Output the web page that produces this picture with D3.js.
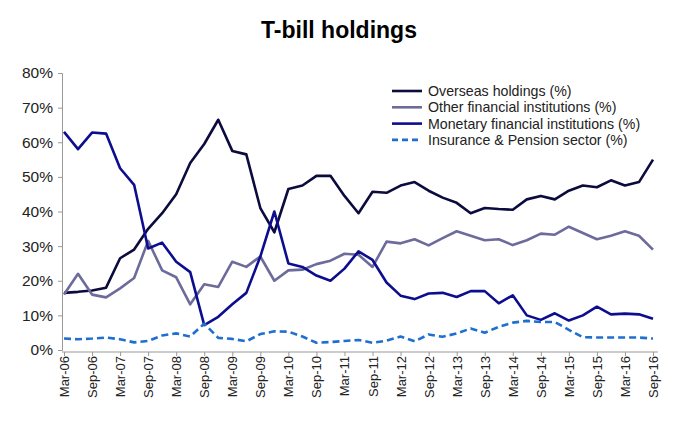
<!DOCTYPE html><html><head><meta charset="utf-8"><script src="https://cdn.jsdelivr.net/npm/d3@7"></script>
<style>body{margin:0;background:#fff;font-family:"Liberation Sans",Arial,sans-serif}</style></head><body><svg id="c" width="678" height="425"></svg><script>
const quarters=[];
const mons=["Mar","Jun","Sep","Dec"];
for(let y=6;y<=16;y++)for(const m of mons){quarters.push(m+"-"+String(y).padStart(2,"0"));}
quarters.splice(quarters.length-1,1);
const overseas=[16.5,16.8,17.2,18,26.5,29,35,39.5,45,54,59.5,66.5,57.5,56.5,41,34,46.5,47.5,50.3,50.3,44.5,39.5,45.7,45.4,47.5,48.5,46,44,42.5,39.5,41,40.7,40.5,43.5,44.5,43.5,46,47.5,47,49,47.5,48.5,55];
const other=[16,22,16,15.2,17.8,20.8,31.5,23,21,13.2,19,18.2,25.5,24,27,20,23,23.2,24.8,25.8,27.8,27.5,24,31.3,30.8,32,30.2,32.3,34.3,33,31.7,32,30.3,31.7,33.6,33.3,35.6,33.8,32,33,34.3,33,29];
const mfi=[63,58,62.8,62.5,52.5,47.7,29.3,31,25.5,22.5,7.2,9.6,13.2,16.5,27,40,25,24,21.5,20,23.5,28.5,26,19.5,15.7,14.7,16.3,16.5,15.3,17,17,13.5,15.8,10,8.7,10.6,8.5,10,12.5,10.3,10.5,10.3,9];
const insurance=[3.3,3.1,3.3,3.6,3.1,2.2,2.6,4.2,4.8,3.9,7.6,3.5,3.2,2.5,4.6,5.4,5.3,3.9,2.1,2.3,2.6,2.9,2.1,2.7,3.9,2.5,4.5,3.8,4.8,6.2,5,6.7,7.9,8.4,8.1,8.1,5.8,3.7,3.6,3.6,3.6,3.6,3.3];
const yTicks=[0,10,20,30,40,50,60,70,80];
const series=[
 {name:"Overseas holdings (%)",v:overseas,c:"#0b0b3d",d:null},
 {name:"Other financial institutions (%)",v:other,c:"#6d6b9b",d:null},
 {name:"Monetary financial institutions (%)",v:mfi,c:"#0d0d8f",d:null},
 {name:"Insurance & Pension sector (%)",v:insurance,c:"#1f6fd1",d:"7,4"}];
const svg=d3.select("#c");
const x=d3.scalePoint().domain(quarters).range([64,653]);
const y=d3.scaleLinear().domain([0,80]).range([350,73]);
svg.append("text").attr("x",339).attr("y",38).attr("text-anchor","middle").attr("font-size",23).attr("font-weight","bold").text("T-bill holdings");
const ya=svg.append("g").attr("transform","translate(62,0)").call(d3.axisLeft(y).tickValues(yTicks).tickFormat(d=>d+"%").tickSize(4));
ya.selectAll("text").attr("font-size",15.5).attr("fill","#222").attr("dx",-2);
ya.selectAll("line,path").attr("stroke","#999");
const xa=svg.append("g").attr("transform","translate(0,352)").call(d3.axisBottom(x).tickValues(quarters.filter((d,i)=>i%2==0)).tickSize(4).tickFormat(d=>d));
xa.select("path").attr("d","M62,0H658").attr("stroke","#999");
xa.selectAll("line").attr("stroke","#999");
xa.selectAll("text").attr("font-size",13).attr("fill","#222").attr("transform","rotate(-90)").attr("text-anchor","end").attr("dx",-4).attr("dy",4.5).attr("y",0);
const line=d3.line().x((d,i)=>x(quarters[i])).y(d=>y(d));
series.forEach(s=>svg.append("path").datum(s.v).attr("d",line).attr("fill","none").attr("stroke",s.c).attr("stroke-width",2.6).attr("stroke-dasharray",s.d).attr("stroke-linejoin","round"));
const lg=svg.append("g").attr("transform","translate(392,91)");
series.forEach((s,i)=>{const g=lg.append("g").attr("transform",`translate(0,${i*16.3})`);
 g.append("line").attr("x1",0).attr("x2",30).attr("stroke",s.c).attr("stroke-width",2.6).attr("stroke-dasharray",s.d?"6,4":null);
 g.append("text").attr("x",36).attr("y",5).attr("font-size",14.2).attr("fill","#222").text(s.name);});
</script></body></html>
